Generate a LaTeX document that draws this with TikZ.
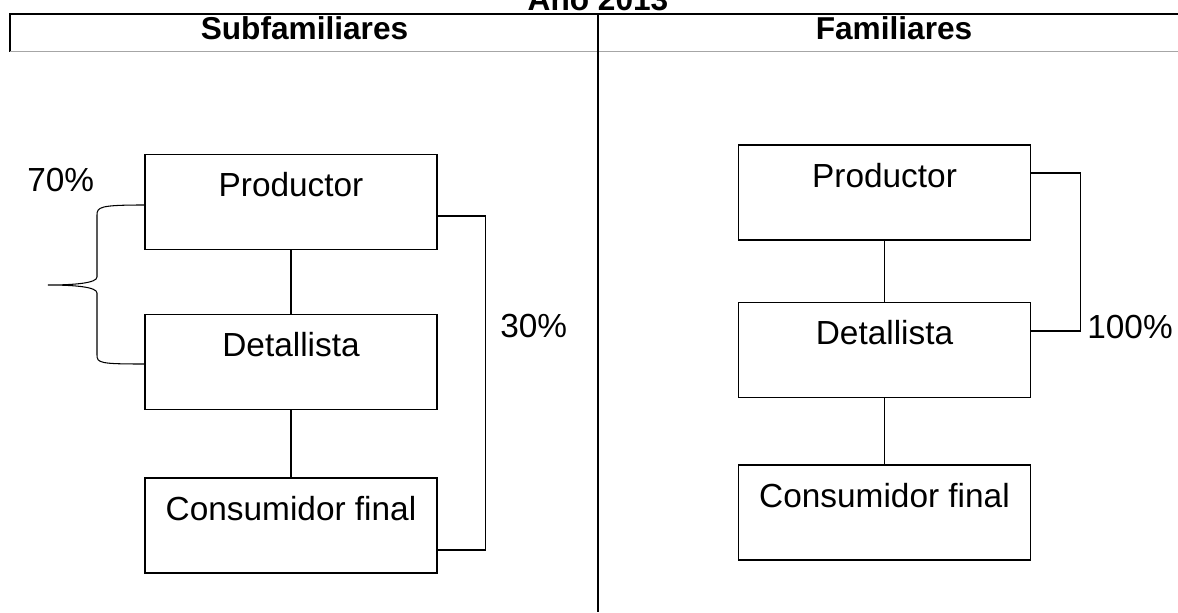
\documentclass[tikz,border=0pt]{standalone}
\usepackage{fontspec}
\setmainfont{Liberation Sans}
\usetikzlibrary{positioning}

\begin{document}
\begin{tikzpicture}[
canal/.style={
	rectangle,
	draw=black,
	line width=0.9pt,
	minimum width=5.84cm,
	minimum height=1.9cm,
	text height=0.5cm,
	text depth=0.72cm,
	font=\fontsize{19}{22}\selectfont
},
head/.style={
	anchor=base,
	font=\fontsize{18}{21}\selectfont\bfseries
},
pct/.style={
	anchor=base west,
	inner sep=0pt,
	font=\fontsize{19}{22}\selectfont
},
link/.style={
	line width=0.6pt
}
]
\useasboundingbox (0,0) rectangle (23.56,-12.24);

% Header
\node [head] (Title) at (11.96,-0.22) {Año 2013};
\draw [link] (0.2,-1.04) -- (0.2,-0.28) -- (23.56,-0.28);
\draw [gray!70, line width=0.5pt] (0.2,-1.02) -- (23.56,-1.02);
\draw [link] (11.96,-0.28) -- (11.96,-12.24);
\node [head] (Sub) at (6.09,-0.8) {Subfamiliares};
\node [head] (Fam) at (17.88,-0.8) {Familiares};

% Subfamiliares
\node [canal] (Prod1) at (5.82,-4.04) {Productor};
\node [canal] (Det1) at (5.82,-7.24) {Detallista};
\node [canal] (Cons1) at (5.82,-10.51) {Consumidor final};
\draw [link] (Prod1) -- (Det1);
\draw [link] (Det1) -- (Cons1);
\draw [link] ([yshift=-0.28cm]Prod1.east) -- ++(0.96,0) |- ([yshift=-0.49cm]Cons1.east);
\draw [link] ([yshift=-0.06cm]Prod1.west) .. controls (2.0,-4.1) and (1.94,-4.14) .. (1.94,-4.3)
	-- (1.94,-5.54) .. controls (1.94,-5.66) and (1.5,-5.7) .. (0.96,-5.7)
	.. controls (1.5,-5.7) and (1.94,-5.74) .. (1.94,-5.86)
	-- (1.94,-7.1) .. controls (1.94,-7.26) and (2.0,-7.28) .. ([yshift=-0.04cm]Det1.west);
\node [pct] (P70) at (0.54,-3.82) {70\%};
\node [pct] (P30) at (10.0,-6.74) {30\%};

% Familiares
\node [canal] (Prod2) at (17.69,-3.85) {Productor};
\node [canal] (Det2) at (17.69,-7.0) {Detallista};
\node [canal] (Cons2) at (17.69,-10.25) {Consumidor final};
\draw [link] (Prod2) -- (Det2);
\draw [link] (Det2) -- (Cons2);
\draw [link] ([yshift=0.39cm]Prod2.east) -- ++(0.98,0) |- ([yshift=0.38cm]Det2.east);
\node [pct] (P100) at (21.74,-6.76) {100\%};

\end{tikzpicture}
\end{document}
